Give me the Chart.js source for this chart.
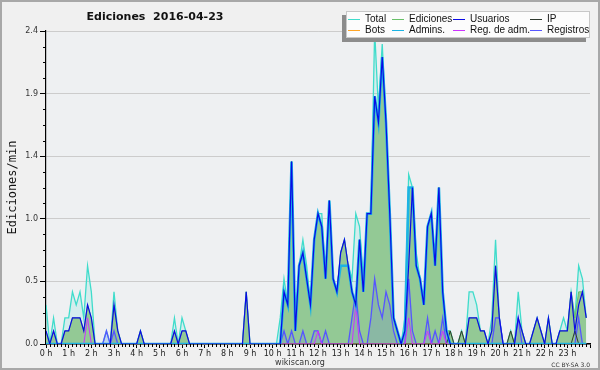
<!DOCTYPE html>
<html><head><meta charset="utf-8">
<script src="https://cdn.jsdelivr.net/npm/chart.js@4/dist/chart.umd.min.js"></script>
<style>html,body{margin:0;padding:0;background:#f0f0f0;}canvas{display:block;}</style>
</head><body>
<canvas id="c" width="600" height="370"></canvas>
<script>
// 10-minute slots, edits per minute (one row = one hour)
const total = [
 0.3,0,0.2,0,0,0.2,
 0.2,0.4,0.3,0.4,0.2,0.6,
 0.4,0,0,0,0.1,0,
 0.4,0.1,0,0,0,0,
 0,0.1,0,0,0,0,
 0,0,0,0,0.2,0,
 0.2,0.1,0,0,0,0,
 0,0,0,0,0,0,
 0,0,0,0,0,0.4,
 0,0,0,0,0,0,
 0,0,0.2,0.5,0.3,1.4,
 0.1,0.6,0.8,0.6,0.3,0.8,
 1.0,1.0,0.5,1.1,0.5,0.4,
 0.7,0.8,0.6,0.5,1.0,0.9,
 0.5,1.0,1.0,2.4,1.8,2.3,
 1.7,1.0,0.2,0.1,0,0.2,
 1.3,1.2,0.7,0.5,0.3,0.9,
 1.0,0.6,1.2,0.4,0.1,0.1,
 0,0,0.1,0,0.4,0.4,
 0.3,0.1,0.1,0,0.2,0.8,
 0.2,0,0,0.1,0,0.4,
 0.1,0,0,0.1,0.2,0.1,
 0,0.2,0,0,0.1,0.2,
 0.1,0.4,0.2,0.6,0.5,0.2];
const ediciones = [
 0.1,0,0.1,0,0,0.1,
 0.1,0.2,0.2,0.2,0.1,0.3,
 0.2,0,0,0,0,0,
 0.3,0.1,0,0,0,0,
 0,0.1,0,0,0,0,
 0,0,0,0,0.1,0,
 0.1,0.1,0,0,0,0,
 0,0,0,0,0,0,
 0,0,0,0,0,0.4,
 0,0,0,0,0,0,
 0,0,0,0.4,0.3,1.4,
 0.1,0.6,0.7,0.5,0.3,0.8,
 1.0,0.9,0.5,1.1,0.5,0.4,
 0.7,0.8,0.6,0.4,0.3,0.8,
 0.4,1.0,1.0,1.9,1.7,2.2,
 1.7,1.0,0.2,0.1,0,0.1,
 1.2,1.2,0.6,0.5,0.3,0.9,
 1.0,0.6,1.2,0.4,0.1,0.1,
 0,0,0.1,0,0.2,0.2,
 0.2,0.1,0.1,0,0.1,0.6,
 0.2,0,0,0.1,0,0.2,
 0.1,0,0,0.1,0.2,0.1,
 0,0.2,0,0,0.1,0.1,
 0.1,0.4,0.2,0.4,0.4,0.2];
const usuarios = [
 0.1,0,0.1,0,0,0.1,
 0.1,0.2,0.2,0.2,0.1,0.3,
 0.2,0,0,0,0,0,
 0.3,0.1,0,0,0,0,
 0,0.1,0,0,0,0,
 0,0,0,0,0.1,0,
 0.1,0.1,0,0,0,0,
 0,0,0,0,0,0,
 0,0,0,0,0,0.4,
 0,0,0,0,0,0,
 0,0,0,0.4,0.3,1.4,
 0.1,0.6,0.7,0.5,0.3,0.8,
 1.0,0.9,0.5,1.1,0.5,0.4,
 0.7,0.8,0.6,0.4,0.3,0.8,
 0.4,1.0,1.0,1.9,1.7,2.2,
 1.7,1.0,0.2,0.1,0,0.1,
 0.6,1.2,0.6,0.5,0.3,0.9,
 1.0,0.6,1.2,0.4,0.1,0,
 0,0,0,0,0.2,0.2,
 0.2,0.1,0.1,0,0.1,0.6,
 0.2,0,0,0,0,0.2,
 0.1,0,0,0.1,0.2,0.1,
 0,0.2,0,0,0.1,0.1,
 0.1,0.4,0.1,0.3,0.4,0.2];
const ip = [
 0,0,0,0,0,0, 0,0,0,0,0,0, 0,0,0,0,0,0, 0,0,0,0,0,0,
 0,0,0,0,0,0, 0,0,0,0,0,0, 0,0,0,0,0,0, 0,0,0,0,0,0,
 0,0,0,0,0,0, 0,0,0,0,0,0, 0,0,0,0,0,0, 0,0,0,0,0,0,
 0,0,0,0,0,0, 0,0,0,0,0,0, 0,0,0,0,0,0, 0,0,0,0,0,0,
 0,0,0,0,0,0, 0,0,0,0,0,0.1, 0,0,0.1,0,0,0, 0,0,0,0,0,0,
 0,0,0,0.1,0,0, 0,0,0,0,0,0, 0,0,0,0,0,0, 0,0,0.1,0,0,0];
const bots = [
 0,0,0,0,0,0, 0,0,0,0,0,0, 0,0,0,0,0,0, 0,0,0,0,0,0,
 0,0,0,0,0,0, 0,0,0,0,0,0, 0,0,0,0,0,0, 0,0,0,0,0,0,
 0,0,0,0,0,0, 0,0,0,0,0,0, 0,0,0,0,0,0, 0,0,0,0,0,0,
 0,0,0,0,0,0, 0,0,0,0,0,0, 0,0,0,0,0,0, 0,0,0,0,0,0,
 0,0,0,0,0,0, 0,0,0,0,0,0, 0,0,0,0,0,0, 0,0,0,0,0,0,
 0,0,0,0,0,0, 0,0,0,0,0,0, 0,0,0,0,0,0, 0,0,0,0,0,0];
const admins = [
 0,0,0,0,0,0, 0,0,0,0,0,0, 0,0,0,0,0,0, 0,0,0,0,0,0,
 0,0,0,0,0,0, 0,0,0,0,0,0, 0,0,0,0,0,0, 0,0,0,0,0,0,
 0,0,0,0,0,0, 0,0,0,0,0,0,
 0,0,0,0.4,0.3,1.4,
 0.1,0.6,0.7,0.5,0.3,0.8,
 1.0,0.9,0.5,1.1,0.5,0.4,
 0.6,0.6,0.6,0.4,0.3,0.8,
 0.4,1.0,1.0,1.9,1.7,2.2,
 1.7,1.0,0.2,0.1,0,0.1,
 1.2,1.2,0.6,0.5,0.3,0.9,
 1.0,0.6,1.2,0.4,0.1,0,
 0,0,0,0,0,0, 0,0,0,0,0,0, 0,0,0,0,0,0, 0,0,0,0,0,0,
 0,0,0,0,0,0, 0,0,0,0,0,0];
const regAdm = [
 0,0,0,0,0,0, 0,0,0,0,0,0.2, 0,0,0,0,0,0, 0,0,0,0,0,0,
 0,0,0,0,0,0, 0,0,0,0,0,0, 0,0,0,0,0,0, 0,0,0,0,0,0,
 0,0,0,0,0,0, 0,0,0,0,0,0, 0,0,0,0,0,0, 0,0,0,0,0,0,
 0.1,0,0,0,0,0, 0,0,0,0,0.3,0, 0,0,0,0,0,0, 0,0,0,0,0,0,
 0.2,0,0,0,0,0.1, 0,0,0,0.1,0,0, 0,0,0,0,0,0, 0,0,0,0,0,0,
 0,0,0,0,0,0, 0,0,0,0,0,0, 0,0,0,0,0,0, 0,0,0,0,0,0];
const registros = [
 0,0,0,0,0,0, 0,0,0,0,0,0, 0,0,0,0,0.1,0, 0.1,0,0,0,0,0,
 0,0,0,0,0,0, 0,0,0,0,0,0, 0,0,0,0,0,0, 0,0,0,0,0,0,
 0,0,0,0,0,0, 0,0,0,0,0,0,
 0,0,0,0.1,0,0.1,
 0,0,0.1,0,0,0.1,
 0.1,0,0.1,0,0,0,
 0,0,0,0.2,0.4,0.1,
 0,0,0.2,0.5,0.3,0.2,
 0.4,0.3,0.1,0,0,0,
 0.5,0.1,0,0,0,0.2,
 0,0.1,0,0.2,0,0,
 0,0,0,0,0,0,
 0,0,0,0,0,0.2,
 0.2,0,0,0,0,0.2,
 0,0,0,0,0,0,
 0,0,0,0,0,0,
 0,0,0,0.2,0,0];

const xTickLabels = ['0 h','1 h','2 h','3 h','4 h','5 h','6 h','7 h','8 h','9 h','10 h','11 h',
  '12 h','13 h','14 h','15 h','16 h','17 h','18 h','19 h','20 h','21 h','22 h','23 h'];
const yTickValues = [0, 0.48, 0.96, 1.44, 1.92, 2.4];
const yTickLabels = ['0.0','0.5','1.0','1.4','1.9','2.4'];
const legendOrder = ['Total','Ediciones','Usuarios','IP','Bots','Admins.','Reg. de adm.','Registros'];

const slotHours = total.map((_, i) => i / 6);
function mk(label, vals, o) {
  return Object.assign({
    label, data: vals.map((v, i) => ({x: slotHours[i], y: v})),
    pointRadius: 0, tension: 0, borderWidth: 1, fill: false
  }, o);
}
const datasets = [
  mk('Total', total, {borderColor:'#3fdccb', backgroundColor:'rgba(64,224,208,0.15)', fill:'origin', borderWidth:1.3, order:10}),
  mk('Ediciones', ediciones, {borderColor:'#68c068', backgroundColor:'#93c995', fill:'origin', order:9}),
  mk('Registros', registros, {borderColor:'#5656ff', backgroundColor:'rgba(90,90,255,0.15)', fill:'origin', borderWidth:1.3, order:8}),
  mk('Bots', bots, {borderColor:'#ffa526', order:7}),
  mk('IP', ip, {borderColor:'#2f3a2f', order:6}),
  mk('Reg. de adm.', regAdm, {borderColor:'#cc33ff', order:5}),
  mk('Admins.', admins, {borderColor:'#1cb4e4', borderWidth:2.6, order:3}),
  mk('Usuarios', usuarios, {borderColor:'#0a0ae6', borderWidth:1.2, order:2})
];

const decor = {
  id: 'decor',
  beforeDraw(chart) {
    const {ctx, chartArea: a} = chart;
    ctx.save();
    ctx.fillStyle = '#f0f0f0'; ctx.fillRect(0, 0, chart.width, chart.height);
    ctx.fillStyle = '#eef0f2'; ctx.fillRect(a.left, a.top, a.right - a.left, a.bottom - a.top);
    ctx.restore();
  },
  afterDraw(chart) {
    const {ctx, chartArea: a, scales} = chart;
    ctx.save();
    // minor ticks
    ctx.strokeStyle = '#000'; ctx.lineWidth = 1;
    ctx.beginPath();
    for (let k = 1; k < 20; k++) {
      if (k % 4 === 0) continue;
      const y = Math.round(scales.y.getPixelForValue(k * 0.12)) + 0.5;
      ctx.moveTo(a.left - 3, y); ctx.lineTo(a.left, y);
    }
    for (let k = 0; k <= 144; k++) {
      if (k % 6 === 0) continue;
      const x = Math.round(scales.x.getPixelForValue(k / 6)) + 0.5;
      ctx.moveTo(x, a.bottom); ctx.lineTo(x, a.bottom + 3);
    }
    ctx.stroke();
    // title
    ctx.fillStyle = '#111';
    ctx.font = 'bold 11px "DejaVu Sans"';
    ctx.textAlign = 'center'; ctx.textBaseline = 'middle';
    ctx.fillText('Ediciones  2016-04-23', 155, 17);
    // legend
    const bx = 346, by = 11, bw = 244, bh = 27;
    ctx.fillStyle = '#8c8c8c'; ctx.fillRect(bx - 4, by + 4, bw, bh);
    ctx.fillStyle = '#fcfcfc'; ctx.fillRect(bx, by, bw, bh);
    ctx.strokeStyle = '#c8c8c8'; ctx.strokeRect(bx + 0.5, by + 0.5, bw - 1, bh - 1);
    const colX = [348, 392, 453, 530];
    const rowY = [19, 30];
    ctx.font = '10px "Liberation Sans"';
    ctx.textAlign = 'left';
    legendOrder.forEach((name, k) => {
      const ds = chart.data.datasets.find(d => d.label === name);
      const x = colX[k % 4], y = rowY[Math.floor(k / 4)];
      ctx.strokeStyle = ds.borderColor; ctx.lineWidth = 1;
      ctx.beginPath(); ctx.moveTo(x, y + 0.5); ctx.lineTo(x + 12, y + 0.5); ctx.stroke();
      ctx.fillStyle = '#111';
      ctx.fillText(name, x + 17, y);
    });
    // footer
    ctx.fillStyle = '#333';
    ctx.font = '8px "DejaVu Sans"'; ctx.textAlign = 'center';
    ctx.fillText('wikiscan.org', 300, 363);
    ctx.font = '6px "DejaVu Sans"'; ctx.textAlign = 'right';
    ctx.fillText('CC BY-SA 3.0', 590, 365);
    // frame
    ctx.strokeStyle = '#a8a8a8'; ctx.lineWidth = 2;
    ctx.strokeRect(1, 1, chart.width - 2, chart.height - 2);
    ctx.restore();
  }
};

new Chart(document.getElementById('c'), {
  type: 'line',
  data: { datasets },
  plugins: [decor],
  options: {
    responsive: false, animation: false, devicePixelRatio: 1,
    layout: { padding: { top: 31, right: 10, bottom: 0, left: 6 } },
    plugins: { legend: { display: false }, title: { display: false }, tooltip: { enabled: false } },
    scales: {
      x: {
        type: 'linear', min: 0, max: 24, z: 1,
        afterFit: s => { s.height = 26; },
        ticks: { stepSize: 1, autoSkip: false, maxRotation: 0, minRotation: 0, padding: 1,
          font: { family: 'DejaVu Sans', size: 8 }, color: '#222',
          callback: v => xTickLabels[v] ?? '' },
        grid: { drawOnChartArea: false, tickLength: 4, tickColor: '#000' },
        border: { color: '#000', width: 1.5 }
      },
      y: {
        min: 0, max: 2.4,
        afterFit: s => { s.width = 40; },
        afterBuildTicks: s => { s.ticks = yTickValues.map(v => ({ value: v })); },
        ticks: { padding: 2, font: { family: 'DejaVu Sans', size: 8 }, color: '#333',
          callback: (v, i) => yTickLabels[i] },
        grid: { color: '#cccccc', tickColor: '#000', tickLength: 6 },
        border: { color: '#000', width: 1.2 },
        title: { display: true, text: 'Ediciones/min', color: '#111',
          font: { family: 'DejaVu Sans Mono', size: 12 }, padding: { top: 0, bottom: 0 } }
      }
    }
  }
});
</script></body></html>
